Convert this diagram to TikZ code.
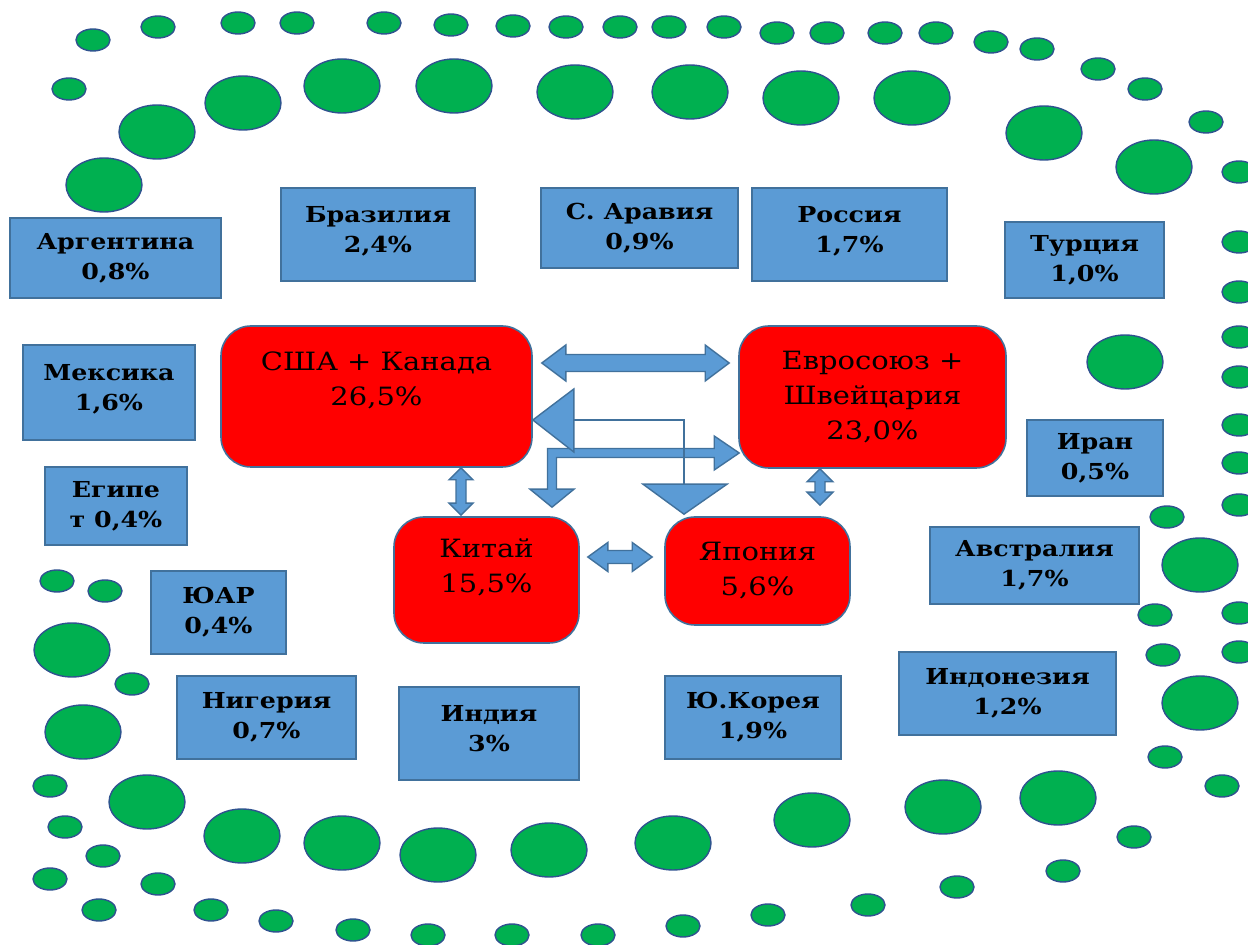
\documentclass[tikz,border=0pt]{standalone}
\usepackage{fontspec}
\setmainfont{DejaVu Serif}[FakeStretch=1.15]
\usepackage{tikz}
\usetikzlibrary{calc}
\definecolor{boxblue}{HTML}{5B9BD5}
\definecolor{boxline}{HTML}{41719C}
\definecolor{dotgreen}{HTML}{00B050}
\definecolor{dotline}{HTML}{2F528F}

\begin{document}
\begin{tikzpicture}[
    x=0.5pt, y=-0.5pt,
    smalldot/.style={fill=dotgreen, draw=dotline, line width=0.7pt},
    country/.style={
        draw=boxline, fill=boxblue, line width=0.8pt,
        align=center, inner sep=0pt,
        font=\bfseries\fontsize{11}{15}\selectfont
    },
    bloc/.style={
        draw=boxline, fill=red, line width=0.8pt,
        rounded corners=15pt, align=center, inner sep=0pt,
        font=\fontsize{12.6}{17.5}\selectfont
    },
    flow/.style={fill=boxblue, draw=boxline, line width=0.7pt},
    dblarrow/.style n args={3}{
        flow,
        to path={
            (\tikztostart)
            -- ($($(\tikztostart)!#3!(\tikztotarget)$)!#2!90:(\tikztotarget)$)
            -- ($($(\tikztostart)!#3!(\tikztotarget)$)!#1!90:(\tikztotarget)$)
            -- ($($(\tikztotarget)!#3!(\tikztostart)$)!#1!-90:(\tikztostart)$)
            -- ($($(\tikztotarget)!#3!(\tikztostart)$)!#2!-90:(\tikztostart)$)
            -- (\tikztotarget)
            -- ($($(\tikztotarget)!#3!(\tikztostart)$)!#2!90:(\tikztostart)$)
            -- ($($(\tikztotarget)!#3!(\tikztostart)$)!#1!90:(\tikztostart)$)
            -- ($($(\tikztostart)!#3!(\tikztotarget)$)!#1!-90:(\tikztotarget)$)
            -- ($($(\tikztostart)!#3!(\tikztotarget)$)!#2!-90:(\tikztotarget)$)
            -- cycle
        }
    }
]

\fill[white] (0,0) rectangle (1248,945);
\useasboundingbox (0,0) rectangle (1248,945);

% Малые точки
\foreach \x/\y in {
    93/40, 158/27, 238/23, 297/23, 384/23, 451/25, 513/26, 566/27,
    620/27, 669/27, 724/27, 777/33, 827/33, 885/33, 936/33, 991/42,
    1037/49, 1098/69, 1145/89, 1206/122, 1239/172, 69/89,
    1239/242, 1239/292, 1239/337, 1239/377, 1239/425, 1239/463,
    1239/505, 1239/613, 1239/652,
    1167/517, 1155/615, 1163/655, 1165/757, 1222/786, 1134/837,
    1063/871, 957/887, 868/905, 768/915, 683/926, 598/935, 512/935,
    428/935, 353/930, 276/921, 211/910, 99/910, 158/884, 50/879,
    103/856, 65/827, 50/786, 132/684, 105/591, 57/581}
    \draw[smalldot] (\x,\y) ellipse [x radius=8.5pt, y radius=5.5pt];

% Большие точки
\foreach \x/\y in {
    104/185, 157/132, 243/103, 342/86, 454/86, 575/92, 690/92,
    801/98, 912/98, 1044/133, 1154/167, 1125/362, 1200/565,
    1200/703, 1058/798, 943/807, 812/820, 673/843, 549/850,
    438/855, 342/843, 242/836, 147/802, 83/732, 72/650}
    \draw[smalldot] (\x,\y) ellipse [x radius=19pt, y radius=13.5pt];

% Страны
\node[country, minimum width=105.5pt, minimum height=40pt] (arg) at (115.5,258) {Аргентина\\0,8\%};
\node[country, minimum width=86pt, minimum height=47.5pt] (mex) at (109,392.5) {Мексика\\1,6\%\\[-10pt]\mbox{}};
\node[country, minimum width=71pt, minimum height=39pt] (egy) at (116,506) {Египе\\т 0,4\%};
\node[country, minimum width=97pt, minimum height=46.5pt] (bra) at (378,234.5) {Бразилия\\2,4\%\\[-10pt]\mbox{}};
\node[country, minimum width=98.5pt, minimum height=40pt] (sau) at (639.5,228) {С. Аравия\\0,9\%};
\node[country, minimum width=97.5pt, minimum height=46.5pt] (rus) at (849.5,234.5) {Россия\\1,7\%\\[-10pt]\mbox{}};
\node[country, minimum width=79.5pt, minimum height=38pt] (tur) at (1084.5,260) {Турция\\1,0\%};
\node[country, minimum width=68pt, minimum height=38pt] (irn) at (1095,458) {Иран\\0,5\%};
\node[country, minimum width=104.5pt, minimum height=38.5pt] (aus) at (1034.5,565.5) {Австралия\\1,7\%};
\node[country, minimum width=108.5pt, minimum height=41.5pt] (idn) at (1007.5,693.5) {Индонезия\\1,2\%};
\node[country, minimum width=67.5pt, minimum height=41.5pt] (zaf) at (218.5,612.5) {ЮАР\\0,4\%};
\node[country, minimum width=89.5pt, minimum height=41.5pt] (nga) at (266.5,717.5) {Нигерия\\0,7\%};
\node[country, minimum width=90pt, minimum height=46.5pt] (ind) at (489,733.5) {Индия\\3\%\\[-10pt]\mbox{}};
\node[country, minimum width=88pt, minimum height=41.5pt] (kor) at (753,717.5) {Ю.Корея\\1,9\%};

% Центры
\node[bloc, minimum width=155.5pt, minimum height=70.5pt] (usa) at (376.5,396.5) {США + Канада\\26,5\%\\\mbox{}};
\node[bloc, minimum width=133.5pt, minimum height=71pt] (eu) at (872.5,397) {Евросоюз +\\Швейцария\\23,0\%};
\node[bloc, minimum width=92.5pt, minimum height=63pt] (chn) at (486.5,580) {Китай\\15,5\%\\[-3pt]\mbox{}};
\node[bloc, minimum width=92.5pt, minimum height=54pt] (jpn) at (757.5,571) {Япония\\5,6\%};

% Двойные стрелки
\coordinate (ue1) at ($(usa.east)+(9,-33.5)$);
\coordinate (ue2) at ($(eu.west)+(-9,-34)$);
\draw[dblarrow={4.25pt}{9pt}{12pt}] (ue1) to (ue2);

\coordinate (uc1) at ($(usa.south)+(84.5,0)$);
\coordinate (uc2) at ($(chn.north)+(-25.5,-1)$);
\draw[dblarrow={2.5pt}{6pt}{6pt}] (uc1) to (uc2);

\coordinate (ej1) at ($(eu.south)+(-52.5,0)$);
\coordinate (ej2) at ($(jpn.north)+(62.5,-11)$);
\draw[dblarrow={2.5pt}{6.5pt}{6.5pt}] (ej1) to (ej2);

\coordinate (cj1) at ($(chn.east)+(8,-23)$);
\coordinate (cj2) at ($(jpn.west)+(-12,-14)$);
\draw[dblarrow={3.25pt}{7.25pt}{10pt}] (cj1) to (cj2);

% Китай -- Евросоюз
\coordinate (ce1) at ($(chn.north)+(65.5,-9)$);
\coordinate (ce2) at ($(eu.west)+(1,56)$);
\coordinate (ck) at (ce1 |- ce2);
\draw[flow] (ce1) -- ($(ce1)+(-22,-18)$) -- ($(ce1)+(-4.5,-18)$)
    -- ($(ck)+(-4.5,-4.5)$) -- ($(ce2)+(-25,-4.5)$) -- ($(ce2)+(-25,-17)$)
    -- (ce2) -- ($(ce2)+(-25,17)$) -- ($(ce2)+(-25,4.5)$)
    -- ($(ck)+(4.5,4.5)$) -- ($(ce1)+(4.5,-18)$) -- ($(ce1)+(22,-18)$)
    -- cycle;

% США -- Япония
\coordinate (uj1) at ($(usa.east)+(0,23.5)$);
\coordinate (uj2) at ($(jpn.north)+(-73.5,-2)$);
\draw[flow] (uj1) -- ($(uj1)+(41,-31)$) -- ($(uj1)+(41,32)$) -- cycle;
\draw[boxline, line width=0.8pt] ($(uj1)+(41,0)$) -| ($(uj2)+(0,-30)$);
\draw[flow] (uj2) -- ($(uj2)+(-41,-30)$) -- ($(uj2)+(43,-30)$) -- cycle;

\end{tikzpicture}
\end{document}
